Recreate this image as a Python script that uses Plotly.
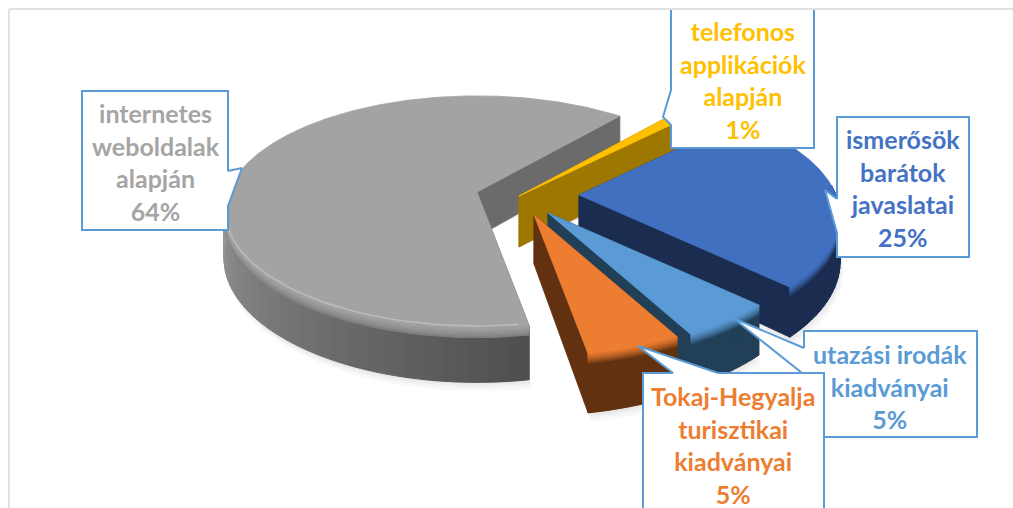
import numpy as np
import plotly.graph_objects as go

# ---- data ----
categories = ["internetes weboldalak alapján", "telefonos applikációk alapján",
              "ismerősök barátok javaslatai", "utazási irodák kiadványai",
              "Tokaj-Hegyalja turisztikai kiadványai"]
values = [64, 1, 25, 5, 5]
label_lines = [["internetes", "weboldalak", "alapján"],
               ["telefonos", "applikációk", "alapján"],
               ["ismerősök", "barátok", "javaslatai"],
               ["utazási irodák", "kiadványai"],
               ["Tokaj-Hegyalja", "turisztikai", "kiadványai"]]

# ---- style / layout ----
W, H = 1013, 508
first_angle = 170.0      # clockwise from the back of the pie
F, K, P = 257.0, 0.452, 0.177
radius = [0.97, 1.0, 1.0, 1.0, 1.0]
top_col = ["#a3a3a3", "#ffc000", "#4170c0", "#5b9bd5", "#ed7d31"]
wall_col = ["#6b6b6b", "#9e7700", "#1a2c50", "#223f58", "#613110"]
text_col = ["#a5a5a5", "#ffc000", "#4472c4", "#5b9bd5", "#ed7d31"]
apex = [(477, 192), (519, 196), (579, 195), (548, 213), (534, 215)]
height = [45, 51, 44, 44, 49]
text_pos = [(156, 162), (743, 80), (903, 188), (890, 386), (733, 445)]
EDGE = "#5b9bd5"
boxes = [
    [(228, 171), (228, 91), (82, 91), (82, 230), (228, 230), (228, 206), (242, 168), (228, 171)],
    [(671, 10), (671, 90), (663, 117), (671, 125), (671, 148), (814, 148), (814, 10)],
    [(837, 199), (837, 117), (969, 117), (969, 257), (837, 257), (837, 233), (825, 190), (837, 199)],
    [(804, 348), (804, 331), (977, 331), (977, 437), (804, 437), (802, 373), (733, 318), (804, 348)],
    [(643, 508), (643, 373), (673, 373), (638, 346), (718, 373), (824, 373), (824, 508)],
]


def proj(r, deg, a, h=0.0):
    t = np.radians(np.asarray(deg, dtype=float))
    X, Y = r * np.sin(t), r * np.cos(t)
    s = 1 / (1 + P * Y)
    return a[0] + F * X * s, a[1] - F * K * Y * s + h * s


def mix(c1, c2, u):
    a = [int(c1[i:i + 2], 16) for i in (1, 3, 5)]
    b = [int(c2[i:i + 2], 16) for i in (1, 3, 5)]
    return "#%02x%02x%02x" % tuple(int(round(p + (q - p) * u)) for p, q in zip(a, b))


def poly(fig, xs, ys, fill, line=None, lw=0.8, opacity=None):
    fig.add_trace(go.Scatter(x=list(xs), y=list(ys), mode="lines", fill="toself",
                             fillcolor=fill, line=dict(color=line or fill, width=lw),
                             opacity=opacity, hoverinfo="skip", showlegend=False))


fig = go.Figure()

# slice angles from the values
ends = np.cumsum(values) / np.sum(values) * 360.0
starts = np.concatenate(([0.0], ends[:-1]))
a0 = first_angle + starts
a1 = first_angle + ends
wrap = a0 >= 360.0
a0 = np.where(wrap, a0 - 360.0, a0)
a1 = np.where(wrap, a1 - 360.0, a1)

# soft shadow under the slices
for i in range(5):
    th = np.linspace(a0[i], a1[i], 80)
    r = radius[i]
    for off in (9, 6, 4, 2):
        x, y = proj(r, th, apex[i], height[i])
        ax, ay = apex[i][0], apex[i][1] + height[i]
        poly(fig, np.r_[ax, x + off * 0.4, ax], np.r_[ay, y + off, ay],
             "#7f7f7f", "rgba(0,0,0,0)", 0, opacity=0.045)

for i in range(5):
    a, h, r = apex[i], height[i], radius[i]
    # radial cut faces
    for ang in (a0[i], a1[i]):
        xt, yt = proj(r, ang, a)
        xb, yb = proj(r, ang, a, h)
        poly(fig, [a[0], xt, xb, a[0], a[0]], [a[1], yt, yb, a[1] + h, a[1]], wall_col[i])
    # curved outer wall: only the part facing the viewer, in small shaded strips
    lo = max(a0[i], 85.0)
    hi = min(a1[i], 272.0)
    if hi > lo:
        n = max(int((hi - lo) / 2), 4)
        edges = np.linspace(lo, hi, n + 1)
        for j in range(n):
            th = np.linspace(edges[j], edges[j + 1], 4)
            if i == 0:
                col = mix("#9a9a9a", "#4e4e4e", (272 - th.mean()) / 102.0)
            else:
                col = wall_col[i]
            x, y = proj(r, th, a)
            xb, yb = proj(r, th, a, h)
            poly(fig, np.r_[x, xb[::-1], x[0]], np.r_[y, yb[::-1], y[0]], col, lw=1.0)
        # bevel between the wall and the top
        th = np.linspace(lo, hi, 70)
        for off, u in ((8, 0.25), (6, 0.5), (4, 0.7), (2, 0.87)):
            x, y = proj(r, th, a)
            xb, yb = proj(r, th, a, off)
            base = wall_col[i] if i else "#777777"
            poly(fig, np.r_[x, xb[::-1], x[0]], np.r_[y, yb[::-1], y[0]], mix(base, top_col[i], u))
    # top surface
    th = np.linspace(a0[i], a1[i], max(int(a1[i] - a0[i]) * 2, 8))
    x, y = proj(r, th, a)
    poly(fig, np.r_[a[0], x, a[0]], np.r_[a[1], y, a[1]], top_col[i])
    # highlight just inside the grey rim
    if i == 0:
        th = np.linspace(172, 272, 50)
        x, y = proj(r * 0.995, th, a, -1)
        fig.add_trace(go.Scatter(x=x, y=y, mode="lines", hoverinfo="skip", showlegend=False,
                                 line=dict(color="#bdbdbd", width=1.4)))

# callout boxes
for b in boxes:
    xs, ys = zip(*b)
    poly(fig, xs, ys, "#ffffff", EDGE, 2)

# labels
for i in range(5):
    txt = "<br>".join(label_lines[i] + [f"{values[i]}%"])
    fig.add_annotation(x=text_pos[i][0], y=text_pos[i][1], text=f"<b>{txt}</b>", showarrow=False,
                       xanchor="center", yanchor="middle", align="center",
                       font=dict(family="Lato", size=25, color=text_col[i]))

# chart frame
fig.add_shape(type="line", x0=9, x1=9, y0=9, y1=H, line=dict(color="#d9d9d9", width=1.5), layer="below")
fig.add_shape(type="line", x0=9, x1=W, y0=9, y1=9, line=dict(color="#d9d9d9", width=1.5), layer="below")

fig.update_layout(width=W, height=H, margin=dict(l=0, r=0, t=0, b=0), paper_bgcolor="#ffffff",
                  plot_bgcolor="#ffffff", showlegend=False,
                  xaxis=dict(range=[0, W], visible=False, fixedrange=True),
                  yaxis=dict(range=[H, 0], visible=False, fixedrange=True))
fig.write_html("out.html", post_script="document.body.style.margin='0';document.body.style.overflow='hidden';",
               config=dict(displayModeBar=False))
